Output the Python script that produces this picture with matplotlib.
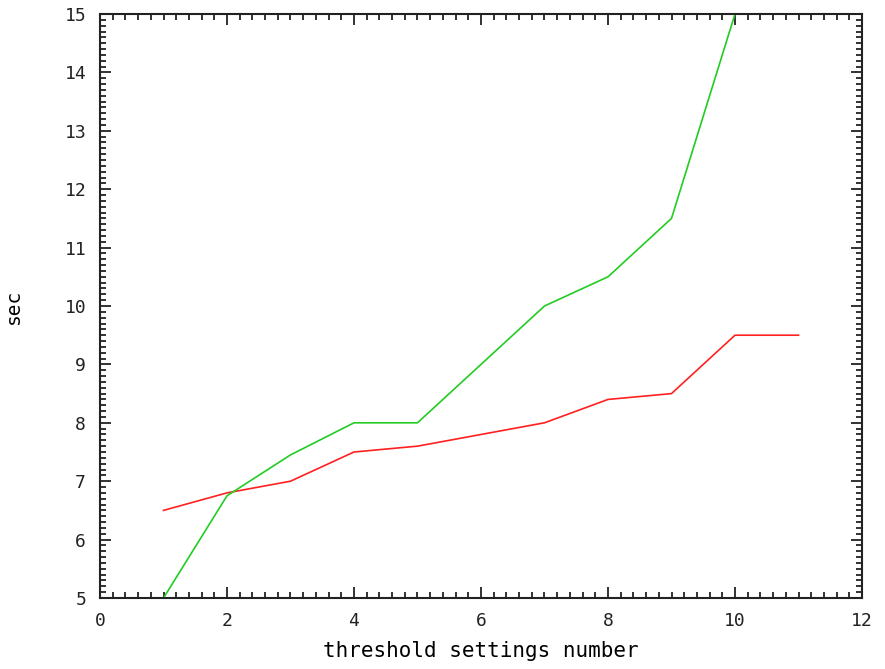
import numpy as np
import matplotlib.pyplot as plt
from matplotlib.ticker import MultipleLocator

# threshold settings vs time
settings = [1, 2, 3, 4, 5, 6, 7, 8, 9, 10, 11]
red_sec = [6.5, 6.8, 7.0, 7.5, 7.6, 7.8, 8.0, 8.4, 8.5, 9.5, 9.5]
green_settings = [1, 2, 3, 4, 5, 6, 7, 8, 9, 10]
green_sec = [5.0, 6.75, 7.45, 8.0, 8.0, 9.0, 10.0, 10.5, 11.5, 15.0]

plt.rcParams['font.family'] = ['DejaVu Sans Mono']

fig = plt.figure(figsize=(8.85, 6.69), dpi=100)
ax = fig.add_axes([100/885, 1-598/669, 762/885, 584/669])

ax.plot(settings, red_sec, color='#ff2020', lw=1.2)
ax.plot(green_settings, green_sec, color='#22cc22', lw=1.2)

ax.set_xlim(0, 12)
ax.set_ylim(5, 15)
ax.xaxis.set_major_locator(MultipleLocator(2))
ax.xaxis.set_minor_locator(MultipleLocator(0.2))
ax.yaxis.set_major_locator(MultipleLocator(1))
ax.yaxis.set_minor_locator(MultipleLocator(0.1))
ax.tick_params(which='both', direction='in', top=True, right=True, width=1.3, labelsize=13, colors='#222222')
ax.tick_params(which='major', length=8, pad=10)
ax.tick_params(which='minor', length=4)
for s in ax.spines.values():
    s.set_linewidth(1.5)
    s.set_color('#222222')

ax.set_xlabel('threshold settings number', fontsize=15, labelpad=8)
ax.set_ylabel('sec', fontsize=14, labelpad=30)

fig.savefig('out.png', dpi=100)
